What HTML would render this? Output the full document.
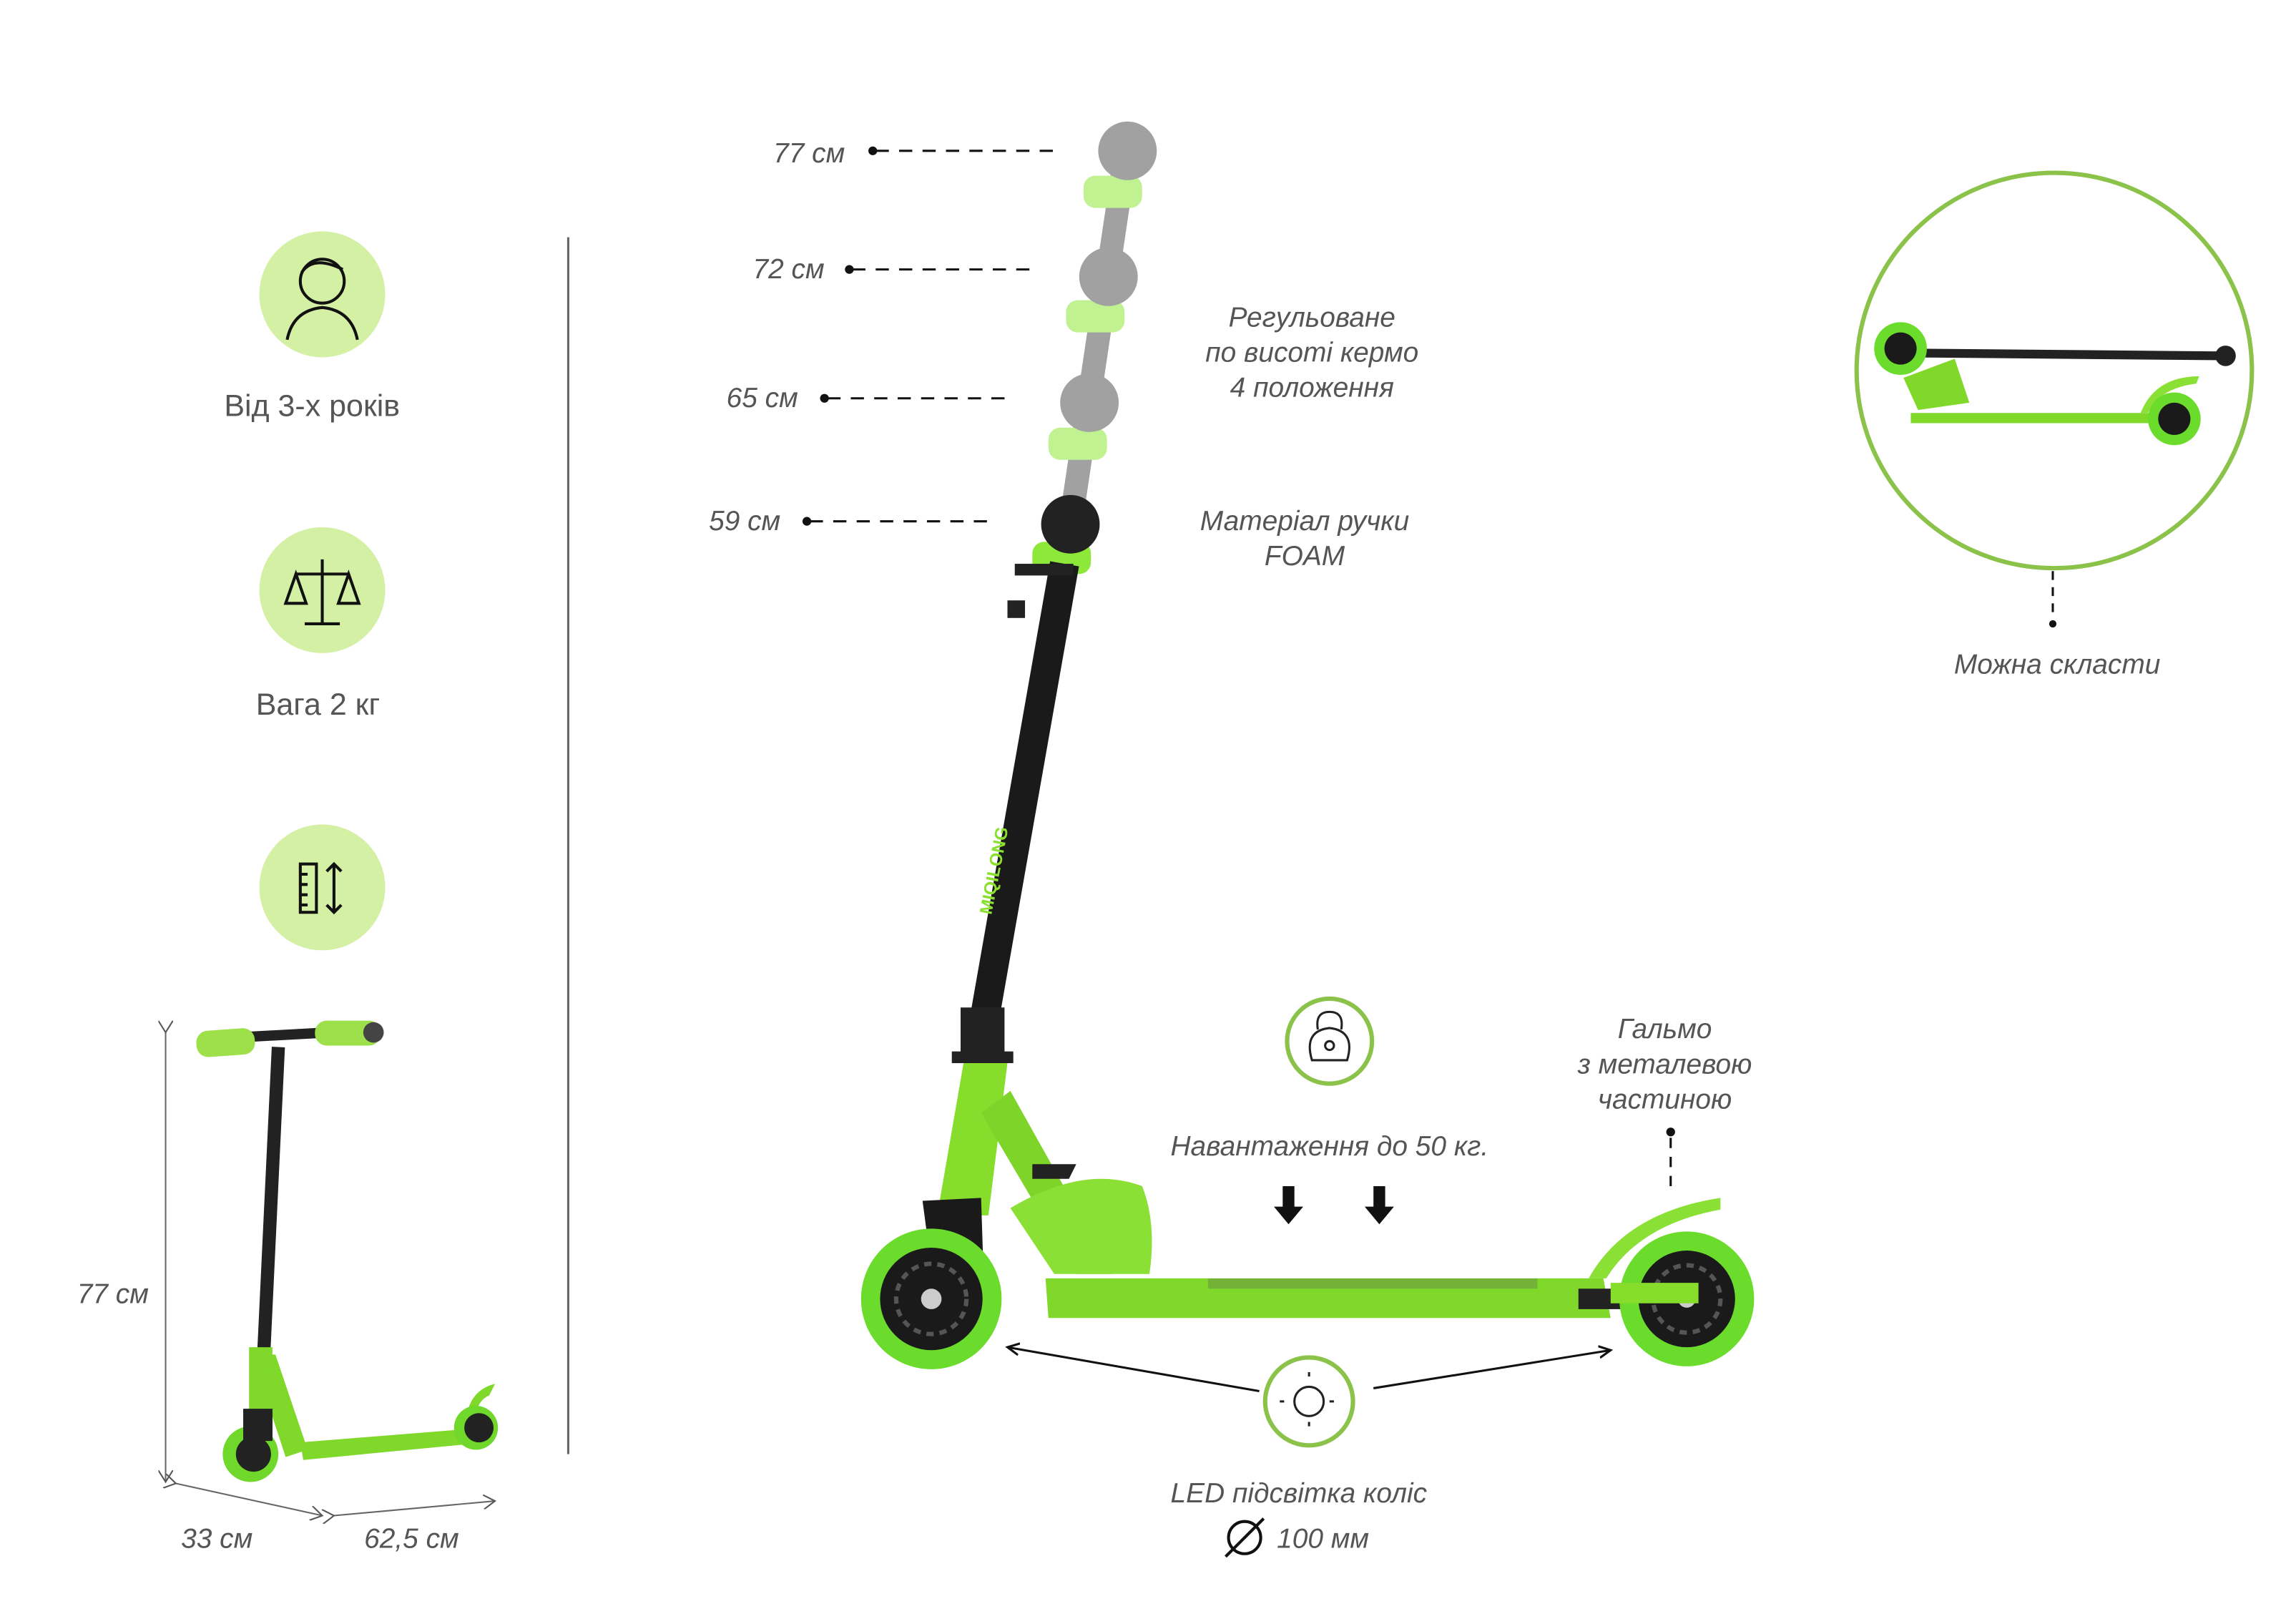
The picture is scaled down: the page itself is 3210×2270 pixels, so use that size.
<!DOCTYPE html>
<html><head><meta charset="utf-8"><style>
html,body{margin:0;padding:0;background:#fff;width:3210px;height:2270px;overflow:hidden}
svg{display:block}
text{font-family:"Liberation Sans",sans-serif;fill:#555}
.i{font-style:italic}
</style></head><body>
<svg width="3210" height="2270" viewBox="0 0 1568 1109" xmlns="http://www.w3.org/2000/svg">
<defs>
<marker id="ah" markerWidth="10" markerHeight="10" refX="8" refY="5" orient="auto" markerUnits="userSpaceOnUse"><path d="M0,0 L8,5 L0,10" fill="none" stroke="#555" stroke-width="1"/></marker>
<marker id="ab" markerWidth="10" markerHeight="10" refX="8" refY="5" orient="auto" markerUnits="userSpaceOnUse"><path d="M0,1 L8,5 L0,9" fill="none" stroke="#111" stroke-width="1.5"/></marker>
</defs>

<circle cx="220" cy="201" r="43" fill="#d4f0a4"/>
<g fill="none" stroke="#111" stroke-width="2">
<circle cx="220" cy="192" r="15"/><path d="M196,232 q4,-20 24,-22 q20,2 24,22"/><path d="M206,186 q8,-12 28,-2"/>
</g>
<text x="213" y="284" font-size="21" text-anchor="middle">Від 3-х років</text>

<circle cx="220" cy="403" r="43" fill="#d4f0a4"/>
<g fill="none" stroke="#111" stroke-width="2">
<path d="M220,382 v44 M208,426 h24 M202,392 h36 M202,392 l-7,20 h14 z M238,392 l-7,20 h14 z"/>
</g>
<text x="217" y="488" font-size="21" text-anchor="middle">Вага 2 кг</text>

<circle cx="220" cy="606" r="43" fill="#d4f0a4"/>
<g fill="none" stroke="#111" stroke-width="2">
<rect x="205" y="590" width="11" height="33"/><path d="M205,597 h5 M205,604 h5 M205,611 h5 M205,618 h5 M228,590 v33 M223,595 l5,-5 l5,5 M223,618 l5,5 l5,-5"/>
</g>

<line x1="388" y1="162" x2="388" y2="993" stroke="#666" stroke-width="1.5"/>

<g>
<line x1="113" y1="705" x2="113" y2="1012" stroke="#666" stroke-width="1" marker-start="url(#ah)" marker-end="url(#ah)"/>
<text x="77" y="890" font-size="19" class="i" text-anchor="middle">77 см</text>
<line x1="120" y1="1013" x2="220" y2="1035" stroke="#666" stroke-width="1" marker-start="url(#ah)" marker-end="url(#ah)"/>
<line x1="228" y1="1035" x2="338" y2="1025" stroke="#666" stroke-width="1" marker-start="url(#ah)" marker-end="url(#ah)"/>
<text x="148" y="1057" font-size="19" class="i" text-anchor="middle">33 см</text>
<text x="281" y="1057" font-size="19" class="i" text-anchor="middle">62,5 см</text>
<line x1="190" y1="715" x2="180" y2="925" stroke="#222" stroke-width="9"/>
<line x1="170" y1="708" x2="225" y2="705" stroke="#222" stroke-width="7"/>
<rect x="134" y="703" width="40" height="18" rx="8" fill="#9de04a" transform="rotate(-4 154 712)"/>
<rect x="215" y="697" width="45" height="17" rx="8" fill="#9de04a"/>
<circle cx="255" cy="705" r="7" fill="#444"/>
<path d="M172,925 L188,925 L210,990 L195,995 Z" fill="#7fd82a"/>
<path d="M170,920 L186,920 L185,975 L170,975 Z" fill="#7fd82a"/>
<path d="M205,985 L330,975 L332,985 L207,997 Z" fill="#7fd82a"/>
<path d="M318,975 q0,-25 20,-30 l-4,8 q-10,4 -10,22 z" fill="#7fd82a"/>
<circle cx="171" cy="993" r="19" fill="#6fd82a"/><circle cx="173" cy="993" r="12" fill="#222"/>
<circle cx="325" cy="975" r="15" fill="#6fd82a"/><circle cx="327" cy="975" r="10" fill="#222"/>
<rect x="166" y="962" width="20" height="22" fill="#222"/>
</g>

<g font-size="19" class="i">
<text x="577" y="111" text-anchor="end">77 см</text>
<text x="563" y="190" text-anchor="end">72 см</text>
<text x="545" y="278" text-anchor="end">65 см</text>
<text x="533" y="362" text-anchor="end">59 см</text>
</g>
<g stroke="#111" stroke-width="1.5" stroke-dasharray="9,7">
<line x1="598" y1="103" x2="726" y2="103"/>
<line x1="582" y1="184" x2="710" y2="184"/>
<line x1="565" y1="272" x2="692" y2="272"/>
<line x1="553" y1="356" x2="681" y2="356"/>
</g>
<g fill="#111"><circle cx="596" cy="103" r="3"/><circle cx="580" cy="184" r="3"/><circle cx="563" cy="272" r="3"/><circle cx="551" cy="356" r="3"/></g>

<g font-size="19" class="i" text-anchor="middle">
<text x="896" y="223">Регульоване</text>
<text x="896" y="247">по висоті кермо</text>
<text x="896" y="271">4 положення</text>
<text x="891" y="362">Матеріал ручки</text>
<text x="891" y="386">FOAM</text>
</g>

<g opacity="0.55">
<line x1="768" y1="110" x2="730" y2="365" stroke="#555" stroke-width="16"/>
<rect x="740" y="120" width="40" height="22" rx="8" fill="#8ee83a"/>
<rect x="728" y="205" width="40" height="22" rx="8" fill="#8ee83a"/>
<rect x="716" y="292" width="40" height="22" rx="8" fill="#8ee83a"/>
<circle cx="770" cy="103" r="20" fill="#555"/>
<circle cx="757" cy="189" r="20" fill="#555"/>
<circle cx="744" cy="275" r="20" fill="#555"/>
</g>
<rect x="705" y="370" width="40" height="22" rx="8" fill="#8ee83a"/>
<circle cx="731" cy="358" r="20" fill="#222"/>
<line x1="727" y1="385" x2="668" y2="720" stroke="#1a1a1a" stroke-width="20"/>
<rect x="693" y="385" width="40" height="8" fill="#222"/>
<rect x="688" y="410" width="12" height="12" fill="#222"/>
<text x="0" y="0" font-size="12" font-weight="bold" style="fill:#8be02f" transform="translate(677,625) rotate(-79)">MIQILONG</text>
<rect x="656" y="688" width="30" height="35" fill="#222"/>
<rect x="650" y="718" width="42" height="8" fill="#222"/>
<path d="M658,726 L688,726 L675,830 L640,830 Z" fill="#86dd2c"/>
<path d="M670,760 L690,745 L760,870 L735,870 Z" fill="#7fd42a"/>
<path d="M690,825 q50,-30 90,-15 q10,25 5,60 L720,870 Z" fill="#8ae035"/>
<path d="M705,795 h30 l-5,10 h-25 z" fill="#222"/>
<path d="M630,820 L670,818 L672,880 L640,895 Z" fill="#1a1a1a"/>
<path d="M714,873 L1095,873 L1100,900 L716,900 Z" fill="#7fd82a"/>
<rect x="825" y="873" width="225" height="7" fill="#6a9a40" opacity="0.6"/>
<path d="M1085,873 q25,-45 90,-55 l0,8 q-55,10 -78,47 z" fill="#8ae035"/>
<rect x="1078" y="880" width="30" height="14" fill="#222"/>
<circle cx="636" cy="887" r="48" fill="#6bdc2c"/><circle cx="636" cy="887" r="35" fill="#1a1a1a"/><circle cx="636" cy="887" r="24" fill="none" stroke="#555" stroke-width="3" stroke-dasharray="5,4"/><circle cx="636" cy="887" r="7" fill="#ccc"/>
<circle cx="1152" cy="887" r="46" fill="#6bdc2c"/><circle cx="1152" cy="887" r="33" fill="#1a1a1a"/><circle cx="1152" cy="887" r="23" fill="none" stroke="#555" stroke-width="3" stroke-dasharray="5,4"/><circle cx="1152" cy="887" r="6" fill="#ccc"/>
<path d="M1100,876 L1160,876 L1160,890 L1100,890 Z" fill="#86dd2c"/>

<circle cx="908" cy="711" r="29" fill="none" stroke="#8bc34a" stroke-width="3"/>
<g fill="none" stroke="#222" stroke-width="1.5"><path d="M896,724 q-6,-20 12,-22 q18,2 12,22 z M900,703 q-2,-12 8,-12 q10,0 8,12"/><circle cx="908" cy="714" r="3"/></g>
<text x="908" y="789" font-size="19" class="i" text-anchor="middle">Навантаження до 50 кг.</text>
<g fill="#111"><path d="M876,810 h8 v14 h6 l-10,12 l-10,-12 h6 z"/><path d="M938,810 h8 v14 h6 l-10,12 l-10,-12 h6 z"/></g>

<g font-size="19" class="i" text-anchor="middle">
<text x="1137" y="709">Гальмо</text>
<text x="1137" y="733">з металевою</text>
<text x="1137" y="757">частиною</text>
</g>
<circle cx="1141" cy="773" r="3" fill="#111"/>
<line x1="1141" y1="777" x2="1141" y2="816" stroke="#111" stroke-width="1.5" stroke-dasharray="7,6"/>

<line x1="860" y1="950" x2="688" y2="920" stroke="#111" stroke-width="1.5" marker-end="url(#ab)"/>
<line x1="938" y1="948" x2="1100" y2="922" stroke="#111" stroke-width="1.5" marker-end="url(#ab)"/>
<circle cx="894" cy="957" r="30" fill="none" stroke="#8bc34a" stroke-width="3"/>
<circle cx="894" cy="957" r="10" fill="none" stroke="#222" stroke-width="1.5"/>
<g stroke="#222" stroke-width="1.5" stroke-dasharray="3,3"><line x1="894" y1="937" x2="894" y2="943"/><line x1="894" y1="971" x2="894" y2="977"/><line x1="874" y1="957" x2="880" y2="957"/><line x1="908" y1="957" x2="914" y2="957"/></g>
<text x="887" y="1026" font-size="19" class="i" text-anchor="middle">LED підсвітка коліс</text>
<circle cx="850" cy="1050" r="11" fill="none" stroke="#111" stroke-width="2"/><line x1="837" y1="1063" x2="863" y2="1037" stroke="#111" stroke-width="2"/>
<text x="872" y="1057" font-size="19" class="i">100 мм</text>

<circle cx="1403" cy="253" r="135" fill="none" stroke="#8bc34a" stroke-width="3"/>
<line x1="1300" y1="241" x2="1518" y2="243" stroke="#222" stroke-width="6"/>
<circle cx="1520" cy="243" r="7" fill="#222"/>
<path d="M1300,258 L1335,245 L1345,275 L1310,280 Z" fill="#7fd82a"/>
<path d="M1305,282 L1490,282 L1490,289 L1305,289 Z" fill="#7fd82a"/>
<path d="M1462,282 q10,-25 40,-25 l-2,5 q-25,3 -33,20 z" fill="#8ae035"/>
<circle cx="1298" cy="238" r="18" fill="#6bdc2c"/><circle cx="1298" cy="238" r="11" fill="#1a1a1a"/>
<circle cx="1485" cy="286" r="18" fill="#6bdc2c"/><circle cx="1485" cy="286" r="11" fill="#1a1a1a"/>
<line x1="1402" y1="390" x2="1402" y2="423" stroke="#111" stroke-width="1.5" stroke-dasharray="6,5"/>
<circle cx="1402" cy="426" r="2.5" fill="#111"/>
<text x="1405" y="460" font-size="19" class="i" text-anchor="middle">Можна скласти</text>
</svg>
</body></html>
